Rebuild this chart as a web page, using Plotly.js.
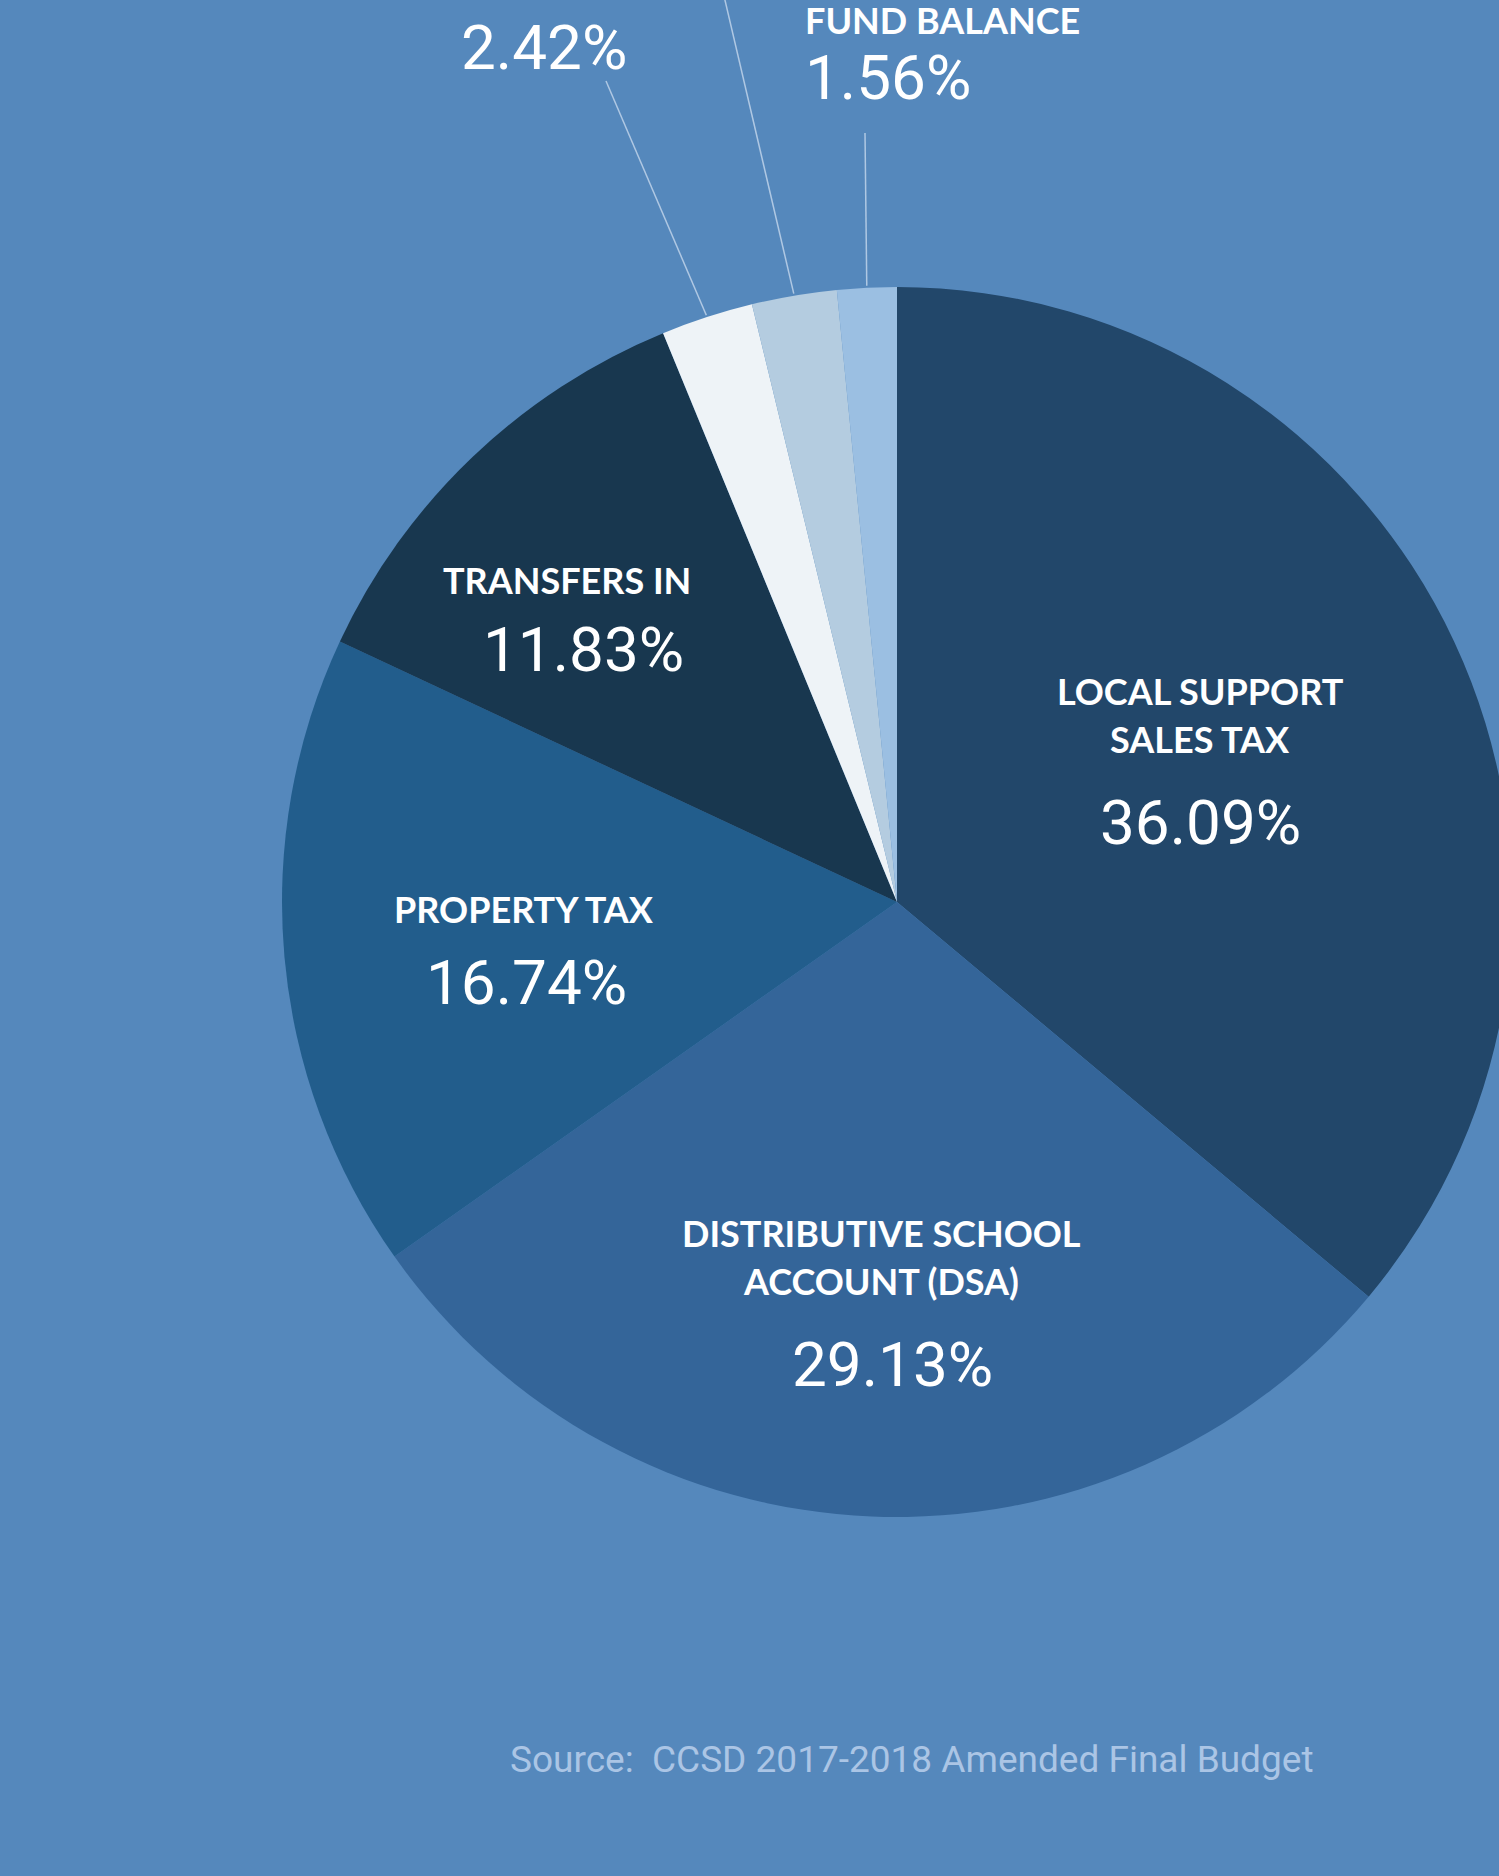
<!DOCTYPE html>
<html>
<head>
<meta charset="utf-8">
<script src="https://cdn.plot.ly/plotly-3.0.1.min.js"></script>
<style>
  html, body { margin: 0; padding: 0; overflow: hidden; background: #5588BC; }
  #chart { width: 1600px; height: 1876px; }
</style>
</head>
<body>
<div id="chart"></div>
<script>
// ---- Data ----
const categories = [
  "LOCAL SUPPORT SALES TAX",
  "DISTRIBUTIVE SCHOOL ACCOUNT (DSA)",
  "PROPERTY TAX",
  "TRANSFERS IN",
  "OTHER LOCAL AND STATE REVENUES",
  "OTHER REVENUES",
  "BEGINNING FUND BALANCE"
];
const shares = [36.09, 29.13, 16.74, 11.83, 2.42, 2.23, 1.56];
const sliceColors = ["#22476A", "#346599", "#225D8C", "#18374F", "#EEF3F7", "#B4CCE0", "#9BBFE2"];
const sourceNote = "Source:  CCSD 2017-2018 Amended Final Budget";

// ---- Layout geometry (pixels) ----
const W = 1600, H = 1876;
const CX = 897, CY = 902, R = 615;
const px = x => x / W;
const py = y => 1 - y / H;

const BG = "#5588BC";
const capFont = {family: "Lato, 'Open Sans', sans-serif", size: 36, color: "#FFFFFF", weight: 700};
const numFont = {family: "Roboto, 'Open Sans', sans-serif", size: 62, color: "#FFFFFF", weight: 400};

function ann(text, x, y, font, xanchor) {
  return {text: text, x: px(x), y: py(y), xref: "paper", yref: "paper",
          xanchor: xanchor || "center", yanchor: "middle", showarrow: false, font: font};
}

const annotations = [
  ann("LOCAL SUPPORT", 1200, 691, capFont),
  ann("SALES TAX", 1200, 739, capFont),
  ann(shares[0].toFixed(2) + "%", 1200, 822, numFont),
  ann("DISTRIBUTIVE SCHOOL", 881, 1233, capFont),
  ann("ACCOUNT (DSA)", 881, 1281, capFont),
  ann(shares[1].toFixed(2) + "%", 892, 1364, numFont),
  ann("PROPERTY TAX", 524, 909, capFont),
  ann(shares[2].toFixed(2) + "%", 526, 983, numFont),
  ann("TRANSFERS IN", 567, 580, capFont),
  ann(shares[3].toFixed(2) + "%", 583, 649, numFont),
  ann(categories[4], 624, -17, capFont, "right"),
  ann(shares[4].toFixed(2) + "%", 629, 48, numFont, "right"),
  ann("FUND BALANCE", 803, 20, capFont, "left"),
  ann(shares[6].toFixed(2) + "%", 803, 78, numFont, "left"),
  ann(sourceNote, 912, 1759, {family: "Roboto, 'Liberation Sans', sans-serif", size: 37, color: "#ABC5E5"})
];

// leader lines from small slices (arc point computed from the data) to the labels
const total = shares.reduce((a, b) => a + b, 0);
let cum = 0;
const mids = shares.map(v => { const m = cum + v / 2; cum += v; return m / total * 2 * Math.PI; });
const labelEnds = {4: [606, 81], 5: [724, -4], 6: [865, 133]};
const shapes = Object.keys(labelEnds).map(k => {
  const a = mids[k];
  const ax = CX + (R + 2) * Math.sin(a), ay = CY - (R + 2) * Math.cos(a);
  const [lx, ly] = labelEnds[k];
  return {type: "line", xref: "paper", yref: "paper",
          x0: px(lx), y0: py(ly), x1: px(ax), y1: py(ay),
          line: {color: "rgba(205,222,240,0.75)", width: 1.5}};
});

const trace = {
  type: "pie",
  labels: categories,
  values: shares,
  sort: false,
  direction: "clockwise",
  rotation: 0,
  textinfo: "none",
  hoverinfo: "none",
  marker: {colors: sliceColors, line: {width: 0}},
  domain: {x: [px(CX - R), px(CX + R)], y: [py(CY + R), py(CY - R)]},
  showlegend: false
};

const layout = {
  width: W, height: H,
  margin: {l: 0, r: 0, t: 0, b: 0},
  paper_bgcolor: BG,
  plot_bgcolor: BG,
  showlegend: false,
  annotations: annotations,
  shapes: shapes
};

Plotly.newPlot("chart", [trace], layout, {displayModeBar: false, staticPlot: true});
</script>
</body>
</html>
